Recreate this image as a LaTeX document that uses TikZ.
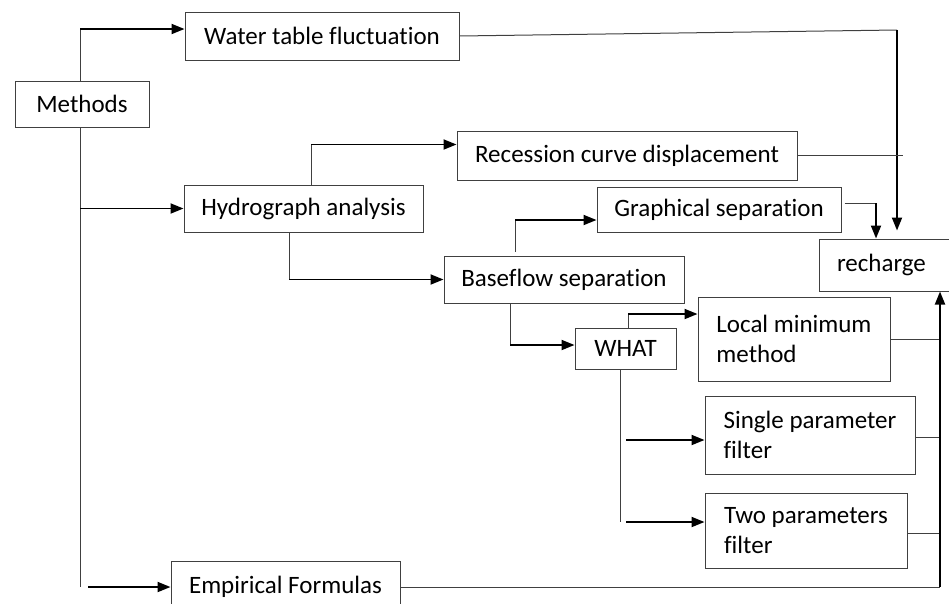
\documentclass[tikz,border=0pt]{standalone}
\usepackage{fontspec}
\setmainfont{Carlito}[Ligatures={NoCommon,NoRare,NoDiscretionary}]
\usetikzlibrary{arrows.meta,calc}
\begin{document}
\begin{tikzpicture}[x=1pt,y=-1pt,
  box/.style={draw=black!75,line width=1pt,inner sep=0pt,font=\fontsize{25}{30}\selectfont,text=black},
  thinline/.style={draw=black!75,line width=1pt},
  arr/.style={draw=black,line width=1.9pt,-{Triangle[length=13pt,width=10pt]}},
  thick/.style={draw=black,line width=1.9pt}]
\useasboundingbox (0,0) rectangle (949,603);
% nodes
\node[box,minimum width=134,minimum height=46] (meth) at (82,104) {Methods};
\node[box,minimum width=274,minimum height=48] (wtf) at (322,36) {Water table fluctuation};
\node[box,minimum width=239,minimum height=47] (hyd) at (303.5,208.5) {Hydrograph analysis};
\node[box,minimum width=340,minimum height=49] (rcd) at (627,155.5) {Recession curve displacement};
\node[box,minimum width=240,minimum height=47] (bfs) at (564,279.5) {Baseflow separation};
\node[box,minimum width=244,minimum height=45] (gs) at (719,209.5) {Graphical separation};
\node[box,minimum height=52,text width=100pt,align=left,inner xsep=18pt] (rech) at (887,265) {recharge};
\node[box,minimum width=101,minimum height=41] (what) at (625.5,348.5) {WHAT};
\node[box,minimum width=192,minimum height=84,align=left] (lmm) at (794,339) {Local minimum\\method};
\node[box,minimum width=210,minimum height=78,align=left] (spf) at (810,435) {Single parameter\\filter};
\node[box,minimum width=202,minimum height=75,align=left] (tpf) at (806,530.5) {Two parameters\\filter};
\node[box,minimum width=229,minimum height=52] (emp) at (285.5,587) {Empirical Formulas};
% corner coordinates
\coordinate (m1) at (80,29);
\coordinate (mt) at (80,587);
\coordinate (h1) at (311,144.5);
\coordinate (h2) at (289,279.5);
\coordinate (b1) at (515,220);
\coordinate (b2) at (510,345);
\coordinate (w1) at (628,314);
\coordinate (wt) at (620,522);
\coordinate (r1) at (897,30);
\coordinate (r2) at (876,203);
\coordinate (r3) at (940,587);
% Methods branches
\draw[thinline] ([xshift=-2pt]meth.north) -- (m1);
\draw[arr] (m1) -- ([yshift=7pt]wtf.west);
\draw[thinline] ([xshift=-2pt]meth.south) -- (mt);
\draw[arr] (hyd.west -| mt) -- (hyd.west);
\draw[arr] ([xshift=8pt]mt) -- (emp.west);
% Hydrograph branches
\draw[thinline] ([xshift=7.5pt]hyd.north) -- (h1);
\draw[arr] (h1) -- ([yshift=11pt]rcd.west);
\draw[thinline] ([xshift=-14.5pt]hyd.south) -- (h2);
\draw[arr] (h2) -- (bfs.west);
% Baseflow branches
\draw[thinline] ([xshift=-49pt,yshift=4pt]bfs.north) -- (b1);
\draw[arr] (b1) -- ([yshift=-10.5pt]gs.west);
\draw[thinline] ([xshift=-54pt]bfs.south) -- (b2);
\draw[arr] (b2) -- ([yshift=3.5pt]what.west);
% WHAT branches
\draw[thinline] ([xshift=2.5pt]what.north) -- (w1);
\draw[arr] (w1) -- ([yshift=25pt]lmm.west);
\draw[thinline] ([xshift=-5.5pt]what.south) -- (wt);
\draw[arr] ([xshift=6pt,yshift=-5pt]spf.west -| wt) -- ([yshift=-5pt]spf.west);
\draw[arr] ([xshift=6pt]wt) -- ([yshift=8.5pt]tpf.west);
% to recharge
\draw[thinline] (wtf.east) -- (r1);
\draw[arr] (r1) -- ([xshift=10pt,yshift=8pt]rech.north);
\draw[thinline] (rcd.east) -- ([xshift=6pt]rcd.east -| r1);
\draw[thinline] ([xshift=3pt,yshift=6.5pt]gs.east) -- (r2);
\draw[arr] (r2) -- ([xshift=-11pt]rech.north);
\draw[thinline] (lmm.east) -- (lmm.east -| r3);
\draw[thinline] ([yshift=-2pt]spf.east) -- ([yshift=-2pt]spf.east -| r3);
\draw[thinline] ([yshift=-2.5pt]tpf.east) -- ([yshift=-2.5pt]tpf.east -| r3);
\draw[thinline] (emp.east) -- (r3);
\draw[arr] (r3) -- ([xshift=53pt]rech.south);
\end{tikzpicture}
\end{document}
